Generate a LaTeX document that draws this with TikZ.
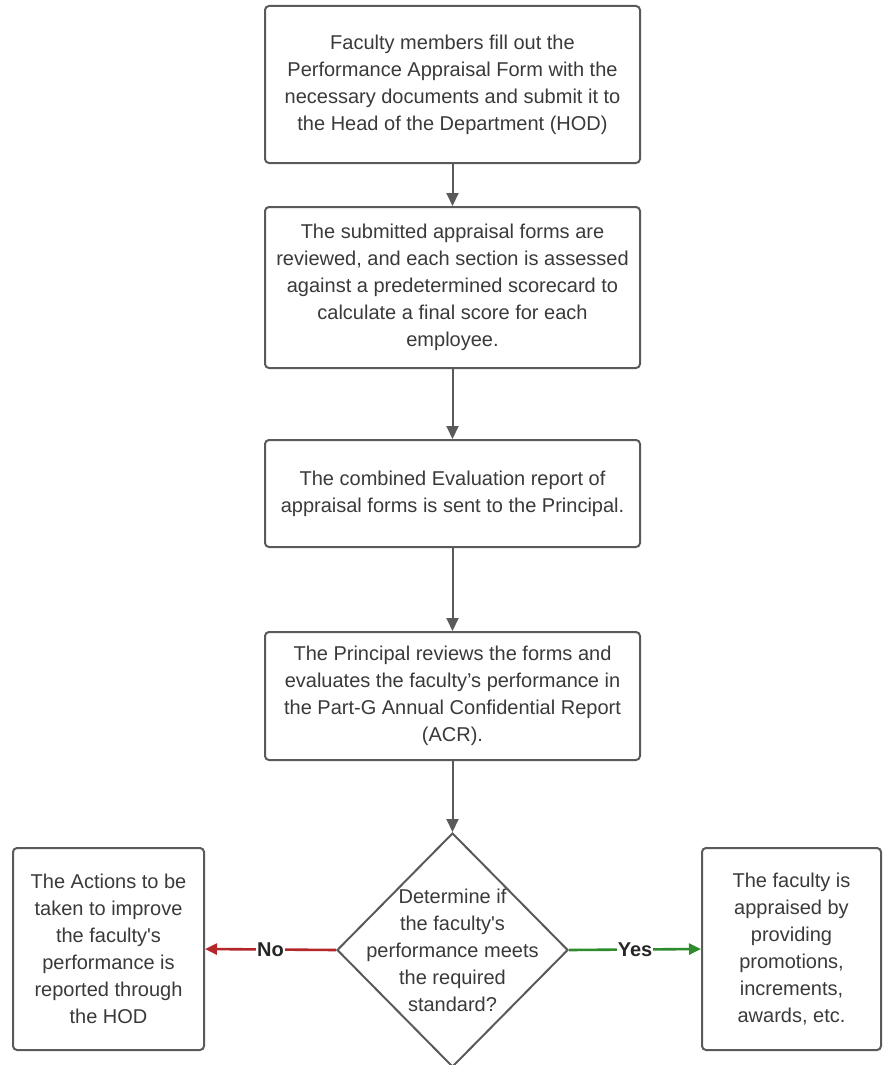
\documentclass[tikz,border=0pt]{standalone}
\usepackage{fontspec}
\setmainfont{Liberation Sans}
\usetikzlibrary{shapes.geometric,arrows.meta}
\definecolor{ink}{HTML}{3A3A3A}
\definecolor{edge}{HTML}{5A5A5A}
\definecolor{nored}{HTML}{B3262A}
\definecolor{yesgreen}{HTML}{2E8B2E}
\begin{document}
\begin{tikzpicture}[x=1pt,y=-1pt,
  every node/.style={font=\fontsize{20}{27}\selectfont, text=ink},
  stepbox/.style={draw=edge, line width=2pt, rounded corners=4pt, align=center, inner sep=0pt, fill=white},
  flow/.style={draw=edge, line width=2pt, -{Triangle[length=13pt,width=12pt]}},
  branch/.style={line width=2.6pt, -{Triangle[length=12pt,width=11pt]}},
  tag/.style={fill=white, inner sep=1pt, text=black!85, font=\fontsize{20}{24}\selectfont\bfseries}
]
% canvas
\fill[white] (0,0) rectangle (883,1065);
\useasboundingbox (0,0) rectangle (883,1065);

% process steps
\node[stepbox, minimum width=375pt, minimum height=157pt] (b1) at (452.5,84.5)
  {Faculty members fill out the\\Performance Appraisal Form with the\\necessary documents and submit it to\\the Head of the Department (HOD)};
\node[stepbox, minimum width=375pt, minimum height=161pt] (b2) at (452.5,287.5)
  {The submitted appraisal forms are\\reviewed, and each section is assessed\\against a predetermined scorecard to\\calculate a final score for each\\employee.};
\node[stepbox, minimum width=375pt, minimum height=107pt] (b3) at (452.5,493.5)
  {The combined Evaluation report of\\appraisal forms is sent to the Principal.};
\node[stepbox, minimum width=375pt, minimum height=128pt] (b4) at (452.5,696)
  {The Principal reviews the forms and\\evaluates the faculty’s performance in\\the Part-G Annual Confidential Report\\(ACR).};

% decision
\node[diamond, draw=edge, line width=2pt, fill=white, minimum width=231pt, minimum height=234pt, inner sep=0pt] (dec) at (452.5,950) {};
\node[align=center] (dect) at (dec.center)
  {Determine if\\the faculty\textquotesingle s\\performance meets\\the required\\standard?};

% outcomes
\node[stepbox, minimum width=191pt, minimum height=202pt] (no) at (108.5,949)
  {The Actions to be\\taken to improve\\the faculty\textquotesingle s\\performance is\\reported through\\the HOD};
\node[stepbox, minimum width=179pt, minimum height=202pt] (yes) at (791.5,949)
  {The faculty is\\appraised by\\providing\\promotions,\\increments,\\awards, etc.};

% connectors
\draw[flow] (b1) -- (b2);
\draw[flow] (b2) -- (b3);
\draw[flow] (b3) -- (b4);
\draw[flow] (b4) -- (dec);
\draw[branch, nored] (dec.west) -- node[tag] {No} (no.east);
\draw[branch, yesgreen] (dec.east) -- node[tag] {Yes} (yes.west);
\end{tikzpicture}
\end{document}
